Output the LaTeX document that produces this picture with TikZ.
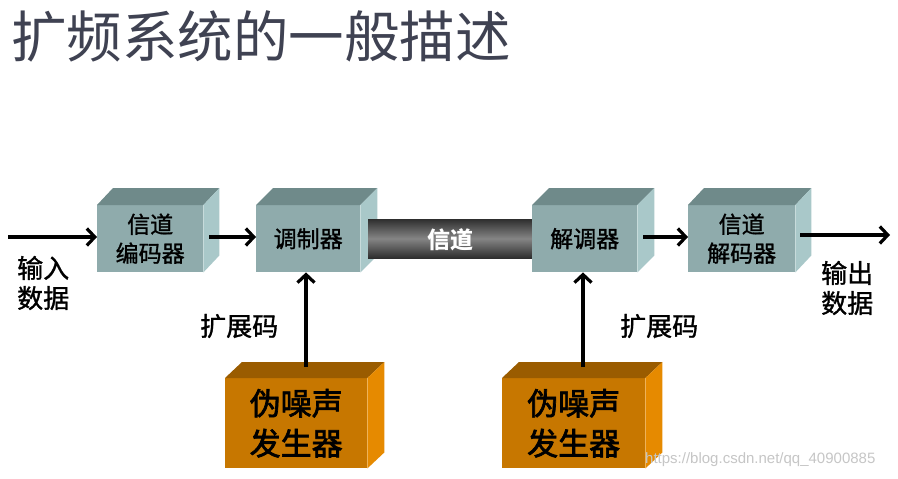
\documentclass[tikz,border=0pt]{standalone}
\usepackage{fontspec}
\setmainfont{Noto Sans CJK SC}
\newfontfamily\medfont[FakeBold=1.2]{Noto Sans CJK SC}
\newfontfamily\heavyfont[FakeBold=2.2]{Noto Sans CJK SC}
\newfontfamily\wmfont{Liberation Sans}
\usetikzlibrary{arrows.meta}
\definecolor{tealF}{HTML}{8FABAC}
\definecolor{tealT}{HTML}{6F8A8A}
\definecolor{tealS}{HTML}{A9C8C9}
\definecolor{orF}{HTML}{C77700}
\definecolor{orT}{HTML}{9A5C00}
\definecolor{orS}{HTML}{E68A00}
\definecolor{titlec}{HTML}{3F4252}
\definecolor{barD}{HTML}{2E2E2E}
\definecolor{barM}{HTML}{858585}
\tikzset{
  tealbox/.style={fill=tealF, inner sep=0, anchor=north west, align=center,
    font=\medfont\fontsize{23}{29}\selectfont},
  orbox/.style={fill=orF, inner sep=0, anchor=north west, align=center,
    font=\heavyfont\fontsize{31}{40}\selectfont},
  arr/.style={line width=3.4pt, -{Straight Barb[length=8pt,width=17pt,line width=3.2pt]}},
  lbl/.style={font=\medfont\fontsize{26}{30}\selectfont, align=left, inner sep=0, anchor=west},
}
\newcommand\cubefaces[5]{%
  \fill[#4] (#1.north west) -- ++(#2,-#3) -- ([shift={(#2,-#3)}]#1.north east) -- (#1.north east) -- cycle;
  \fill[#5] (#1.north east) -- ++(#2,-#3) -- ([shift={(#2,-#3)}]#1.south east) -- (#1.south east) -- cycle;
}
\begin{document}
\begin{tikzpicture}[x=1pt,y=-1pt]
\useasboundingbox[fill=white] (0,0) rectangle (898,479);
% title
\node[anchor=west, inner sep=0, text=titlec, font=\fontsize{55.5}{60}\selectfont] (title) at (11,36) {扩频系统的一般描述};
% boxes
\node[tealbox, minimum width=106pt, minimum height=67pt] (enc) at (97,205) {信道\\编码器};
\cubefaces{enc}{16}{17}{tealT}{tealS}
\node[tealbox, minimum width=104pt, minimum height=67pt] (mod) at (256,205) {调制器};
\cubefaces{mod}{17}{17}{tealT}{tealS}
% channel bar
\shade[top color=barD, bottom color=barD, middle color=barM] (368,219) rectangle (534,258);
\node[text=white, font=\fontsize{23}{26}\selectfont\bfseries, inner sep=0] (ch) at (450,240) {信道};
\node[tealbox, minimum width=105pt, minimum height=67pt] (demod) at (532,205) {解调器};
\cubefaces{demod}{17}{17}{tealT}{tealS}
\node[tealbox, minimum width=107pt, minimum height=67pt] (dec) at (688,205) {信道\\解码器};
\cubefaces{dec}{16}{17}{tealT}{tealS}
% PN generators
\node[orbox, minimum width=142pt, minimum height=90pt] (pn1) at (225,378) {伪噪声\\发生器};
\cubefaces{pn1}{17}{16}{orT}{orS}
\node[orbox, minimum width=143pt, minimum height=90pt] (pn2) at (502,378) {伪噪声\\发生器};
\cubefaces{pn2}{17}{16}{orT}{orS}
% arrows
\coordinate (in) at (8,237);
\draw[arr] (in) -- (enc.west |- in);
\coordinate (a1) at (209,237);
\draw[arr] (a1) -- (mod.west |- a1);
\coordinate (a2) at (643,237);
\draw[arr] (a2) -- (dec.west |- a2);
\coordinate (o1) at (800,235);
\coordinate (out) at (890,235);
\draw[arr] (o1) -- (out);
\coordinate (s1) at (306,367);
\draw[arr] (s1) -- (s1 |- mod.south);
\coordinate (s2) at (583,367);
\draw[arr] (s2) -- (s2 |- demod.south);
% labels
\node[lbl] (inl) at (17,283) {输入\\数据};
\node[lbl] (outl) at (821,288) {输出\\数据};
\node[lbl] (sc1) at (200,326) {扩展码};
\node[lbl] (sc2) at (620,326) {扩展码};
% watermark
\node[anchor=west, inner sep=0, text=gray!45, font=\wmfont\fontsize{15}{18}\selectfont] (wm) at (645,460) {https://blog.csdn.net/qq\_40900885};
\end{tikzpicture}
\end{document}
